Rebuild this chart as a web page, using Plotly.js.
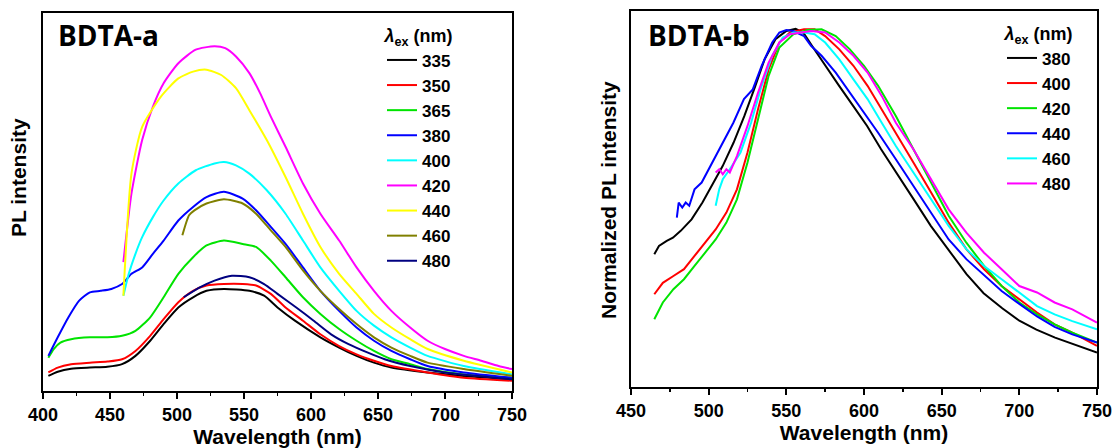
<!DOCTYPE html>
<html>
<head>
<meta charset="utf-8">
<script src="https://cdn.plot.ly/plotly-3.0.1.min.js"></script>
<style>html,body{margin:0;padding:0;background:#fff;}#chart{width:1115px;height:448px;}</style>
</head>
<body>
<div id="chart"></div>
<script>
// ---------- Panel a (BDTA-a): PL intensity (a.u.) vs wavelength (nm) ----------
const aLabels = ['335','350','365','380','400','420','440','460','480'];
const aColors = ['#000000','#ff0000','#00e400','#0000ff','#00ffff','#ff00ff','#ffff00','#808000','#000080'];

const a335x = [404,411,421,435,448,459,469,480,490,501,512,522,535,554,565,575,588,607,621,634,647,660,687,714,750];
const a335y = [4.0,5.1,5.9,6.2,6.4,7.1,9.3,13.3,17.7,22.1,24.8,26.5,27.0,26.5,25.2,22.1,18.6,14.2,11.5,9.3,7.5,6.2,4.9,4.0,3.1];

const a350x = [404,411,421,435,448,459,469,480,490,501,512,522,535,549,559,570,581,594,607,621,634,647,660,687,714,750];
const a350y = [4.9,6.2,7.1,7.5,7.8,8.4,10.6,14.6,19.0,23.5,26.5,27.9,28.3,28.3,27.9,25.7,22.1,18.6,15.0,11.9,9.7,8.0,6.6,4.9,3.5,2.7];

const a365x = [404,408,413,421,435,448,459,469,480,490,501,512,522,535,549,559,570,581,594,607,621,634,647,660,674,687,714,750];
const a365y = [8.8,11.1,12.8,13.7,14.2,14.2,14.6,15.9,19.5,24.8,31.0,35.4,38.5,39.8,38.9,38.1,34.5,30.1,24.8,20.4,16.4,13.3,10.6,8.4,7.1,5.8,4.4,3.5];

const a380x = [404,411,419,427,435,443,451,459,466,474,482,490,501,512,522,535,549,559,570,581,594,607,621,634,647,660,674,687,714,750];
const a380y = [9.3,14.2,19.5,23.9,26.1,26.5,27.0,28.3,31.0,32.7,36.3,39.8,45.1,48.7,51.3,52.7,50.9,47.8,43.4,38.9,32.7,26.5,21.2,16.8,13.3,10.6,8.4,6.6,4.9,3.5];

const a400x = [460,464,469,474,482,490,501,514,528,535,544,554,567,581,594,607,621,634,647,660,674,687,714,750];
const a400y = [25.2,31.0,36.3,40.7,46.0,50.4,54.9,58.4,60.2,60.6,59.7,57.5,53.1,46.9,39.8,32.7,26.5,21.2,17.3,14.2,11.5,9.3,6.6,4.4];

const a420x = [460,466,474,482,490,501,514,528,536,544,554,562,570,581,594,607,621,634,647,660,674,687,700,714,727,740,750];
const a420y = [34.1,52.2,66.4,75.2,81.4,86.7,90.3,91.2,90.7,88.5,84.1,78.8,72.6,64.6,54.9,46.9,39.8,32.7,26.5,21.2,16.8,13.3,11.1,9.3,8.0,6.6,5.8];

const a440x = [460,466,474,488,501,512,522,533,544,554,567,581,594,607,621,634,647,660,674,687,714,750];
const a440y = [25.2,57.5,69.9,77.9,82.7,84.5,85.0,83.6,80.1,74.3,66.4,56.6,46.9,38.1,31.0,25.7,20.4,16.8,13.7,11.1,8.0,4.9];

const a460x = [504,509,513,522,535,549,559,570,581,594,607,621,634,647,660,674,687,714,750];
const a460y = [41.2,46.5,47.8,49.6,50.7,49.6,46.9,42.5,38.1,31.9,26.5,21.7,17.7,14.2,11.5,9.3,7.5,5.8,4.0];

const a480x = [505,517,528,541,554,565,575,589,602,615,628,642,655,674,700,750];
const a480y = [24.8,27.4,29.2,30.5,30.1,28.3,25.7,22.1,18.6,15.0,12.4,10.2,8.4,6.6,4.9,3.1];

const aX = [a335x,a350x,a365x,a380x,a400x,a420x,a440x,a460x,a480x];
const aY = [a335y,a350y,a365y,a380y,a400y,a420y,a440y,a460y,a480y];

// ---------- Panel b (BDTA-b): normalized PL intensity vs wavelength (nm) ----------
const bLabels = ['380','400','420','440','460','480'];
const bColors = ['#000000','#ff0000','#00e400','#0000ff','#00ffff','#ff00ff'];

const b380x = [465,468,473,477,482,489,496,502,509,516,523,530,536,543,550,556,561,568,575,584,593,602,611,621,632,643,655,666,677,689,700,711,723,734,750];
const b380y = [0.371,0.394,0.408,0.417,0.436,0.468,0.515,0.561,0.617,0.682,0.757,0.840,0.915,0.971,0.994,1.0,0.989,0.943,0.897,0.841,0.785,0.729,0.664,0.599,0.524,0.450,0.380,0.315,0.262,0.220,0.185,0.160,0.138,0.120,0.096];

const b400x = [465,470.5,477.3,484.1,490.9,497.7,504.5,511.4,518.2,525,531.8,538.6,545.5,552.3,561.4,568.2,575,584.1,593.2,602.3,611.4,620.5,631.8,643.2,654.5,665.9,677.3,688.6,700,711.4,722.7,734.1,750];
const b400y = [0.259,0.291,0.310,0.329,0.366,0.403,0.440,0.487,0.552,0.655,0.776,0.887,0.962,0.990,0.999,0.999,0.980,0.943,0.897,0.841,0.776,0.710,0.627,0.543,0.459,0.385,0.329,0.282,0.245,0.208,0.175,0.152,0.115];

const b420x = [465,470.5,477.3,484.1,490.9,497.7,504.5,511.4,518.2,525,531.8,538.6,545.5,554.5,563.6,572.7,581.8,590.9,600,609.1,620.5,631.8,643.2,654.5,665.9,677.3,688.6,700,711.4,722.7,734.1,750];
const b420y = [0.189,0.236,0.273,0.301,0.338,0.375,0.412,0.459,0.524,0.627,0.748,0.869,0.948,0.985,0.997,0.999,0.980,0.943,0.897,0.841,0.757,0.664,0.571,0.478,0.403,0.338,0.282,0.236,0.203,0.175,0.152,0.124];

const b440x = [479.5,480.7,483,485.2,487.5,490.9,495.5,502.3,509.1,515.9,522.7,528.4,534.1,540.9,545.5,550,554.5,561.4,565.9,572.7,581.8,590.9,600,609.1,620.5,631.8,643.2,654.5,665.9,677.3,688.6,700,711.4,722.7,734.1,750];
const b440y = [0.473,0.515,0.501,0.515,0.506,0.552,0.571,0.627,0.682,0.738,0.804,0.831,0.897,0.962,0.990,0.997,0.994,0.980,0.953,0.925,0.878,0.822,0.766,0.710,0.636,0.561,0.487,0.412,0.357,0.312,0.268,0.232,0.197,0.168,0.147,0.124];

const b460x = [504.5,506.8,509.1,513.6,520.5,527.3,534.1,540.9,547.7,554.5,561.4,568.2,575,584.1,593.2,602.3,611.4,620.5,631.8,643.2,654.5,665.9,677.3,688.6,700,711.4,722.7,734.1,750];
const b460y = [0.506,0.552,0.580,0.608,0.655,0.738,0.841,0.925,0.976,0.990,0.990,0.985,0.962,0.915,0.859,0.804,0.738,0.673,0.599,0.524,0.450,0.385,0.338,0.301,0.264,0.226,0.203,0.184,0.161];

const b480x = [504.5,506.8,509.1,511.4,513.6,518.2,525,531.8,538.6,545.5,552.3,559.1,565.9,575,584.1,593.2,602.3,611.4,620.5,631.8,643.2,654.5,665.9,677.3,688.6,700,711.4,722.7,734.1,750];
const b480y = [0.599,0.608,0.594,0.608,0.599,0.645,0.729,0.822,0.906,0.962,0.985,0.990,0.994,0.990,0.962,0.925,0.878,0.813,0.738,0.664,0.580,0.496,0.431,0.375,0.329,0.282,0.264,0.236,0.217,0.180];

const bX = [b380x,b400x,b420x,b440x,b460x,b480x];
const bY = [b380y,b400y,b420y,b440y,b460y,b480y];

// ---------- build ----------
const FONT = 'Liberation Sans, Arial, sans-serif';
const traces = [];
aLabels.forEach((lab,i)=>{
  traces.push({type:'scatter',mode:'lines',name:lab,x:aX[i],y:aY[i],xaxis:'x',yaxis:'y',
    line:{color:aColors[i],width:2,shape:'spline',smoothing:0.6},legend:'legend'});
});
bLabels.forEach((lab,i)=>{
  traces.push({type:'scatter',mode:'lines',name:lab,x:bX[i],y:bY[i],xaxis:'x2',yaxis:'y2',
    line:{color:bColors[i],width:2},legend:'legend2'});
});

const xCommon = {
  showline:true, mirror:true, linecolor:'#000', linewidth:2,
  ticks:'outside', ticklen:6, tickwidth:2, tickcolor:'#000',
  tickfont:{family:FONT,size:18,color:'#000',weight:'bold'},
  showgrid:false, zeroline:false, dtick:50,
  minor:{ticks:'outside',ticklen:3,tickwidth:1.5,tickcolor:'#000',dtick:25,showgrid:false},
  title:{text:'Wavelength (nm)',font:{family:FONT,size:21,color:'#000',weight:'bold'},standoff:4}
};
const yCommon = {
  showline:true, mirror:true, linecolor:'#000', linewidth:2,
  ticks:'', showticklabels:false, showgrid:false, zeroline:false
};
const legCommon = {
  bgcolor:'rgba(0,0,0,0)', borderwidth:0, xanchor:'left', yanchor:'top',
  font:{family:FONT,size:17,color:'#000',weight:'bold'},
  title:{text:'<i>λ</i><sub>ex</sub> (nm)',side:'top center',font:{family:FONT,size:18,color:'#000',weight:'bold'}},
  traceorder:'normal'
};

const layout = {
  width:1115, height:448,
  margin:{l:0,r:0,t:0,b:0},
  paper_bgcolor:'#fff', plot_bgcolor:'#fff',
  showlegend:true,
  xaxis:Object.assign({},xCommon,{domain:[43/1115,512/1115],range:[400,750],anchor:'y'}),
  yaxis:Object.assign({},yCommon,{domain:[57/448,435/448],range:[0,100],anchor:'x'}),
  xaxis2:Object.assign({},xCommon,{domain:[631/1115,1097/1115],range:[450,750],anchor:'y2'}),
  yaxis2:Object.assign({},yCommon,{domain:[61/448,437/448],range:[0,1.05],anchor:'x2'}),
  legend:Object.assign({},legCommon,{x:382/1115,y:(448-19)/448}),
  legend2:Object.assign({},legCommon,{x:1002/1115,y:(448-17)/448}),
  annotations:[
    {text:'BDTA-a',xref:'paper',yref:'paper',x:56/1115,y:(448-35)/448,xanchor:'left',yanchor:'middle',showarrow:false,
     font:{family:'Open Sans, Noto Sans, sans-serif',size:28,color:'#000',weight:'bold'}},
    {text:'BDTA-b',xref:'paper',yref:'paper',x:646/1115,y:(448-35)/448,xanchor:'left',yanchor:'middle',showarrow:false,
     font:{family:'Open Sans, Noto Sans, sans-serif',size:28,color:'#000',weight:'bold'}},
    {text:'PL intensity',xref:'paper',yref:'paper',x:18/1115,y:(448-178)/448,xanchor:'center',yanchor:'middle',textangle:-90,showarrow:false,
     font:{family:FONT,size:21,color:'#000',weight:'bold'}},
    {text:'Normalized PL intensity',xref:'paper',yref:'paper',x:608/1115,y:(448-200)/448,xanchor:'center',yanchor:'middle',textangle:-90,showarrow:false,
     font:{family:FONT,size:21,color:'#000',weight:'bold'}}
  ]
};

Plotly.newPlot('chart', traces, layout, {staticPlot:true, displayModeBar:false});
</script>
</body>
</html>
